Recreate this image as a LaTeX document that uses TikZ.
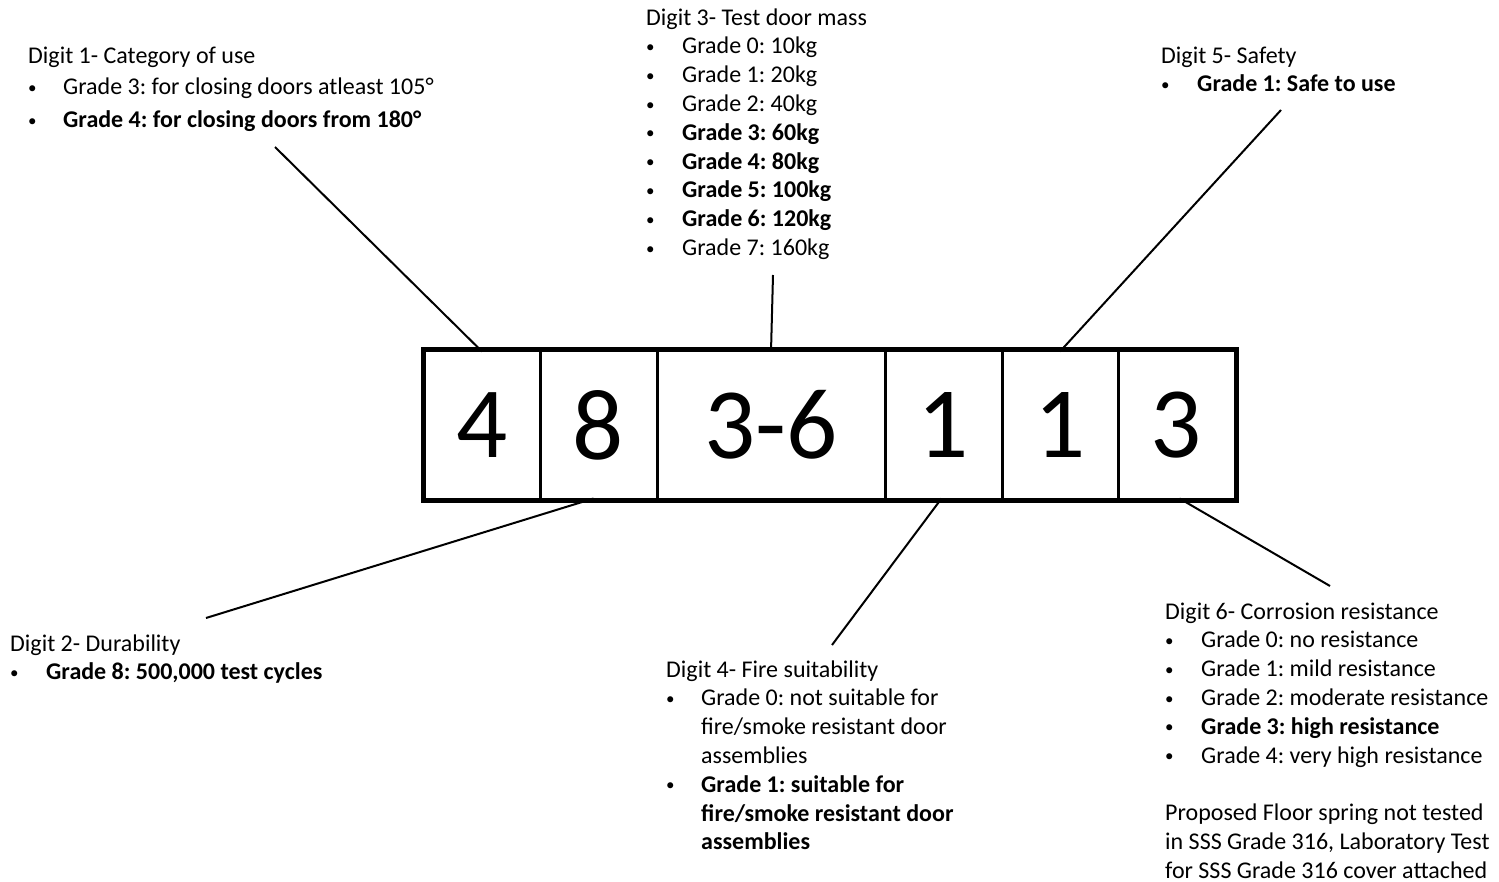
\documentclass[tikz,border=0pt]{standalone}
\usepackage{fontspec}
\setmainfont{Carlito}
\frenchspacing
\newcommand{\bl}[1]{\makebox[#1][l]{\raisebox{1.5pt}{\fontsize{17}{17}\selectfont\textbullet}}}
\begin{document}
\begin{tikzpicture}[x=1pt,y=-1pt,
  txt/.style={anchor=north west, inner sep=0pt, align=left, font=\fontsize{24}{28.8}\selectfont},
  lead/.style={line width=2pt},
  cell/.style={draw, line width=3pt, minimum height=148pt, inner sep=0pt, font=\fontsize{101}{101}\selectfont}]
\useasboundingbox (0,0) rectangle (1499,882);
% cells
\node[cell, minimum width=116pt] (c1) at (482,425) {\raisebox{-3pt}{4}};
\node[cell, minimum width=117pt] (c2) at (598.5,425) {\raisebox{-3pt}{8}};
\node[cell, minimum width=228pt] (c3) at (771,425) {\raisebox{-3pt}{3-6}};
\node[cell, minimum width=117pt] (c4) at (943.5,425) {\raisebox{-3pt}{1}};
\node[cell, minimum width=116pt] (c5) at (1060,425) {\raisebox{-3pt}{1}};
\node[cell, minimum width=117pt] (c6) at (1176.5,425) {\raisebox{-3pt}{3}};
\draw[line width=4pt] (c1.north west) rectangle (c6.south east);
% text blocks (node y = first baseline - strut height)
\node[txt] (d1) at (28,42.8) {\strut Digit 1- Category of use\\[3pt]
 \bl{35pt}Grade 3: for closing doors atleast 105°\\[4pt]
 \bl{35pt}\textbf{Grade 4: for closing doors from 180°}};
\node[txt] (d3) at (646,4.8) {\strut Digit 3- Test door mass\\
 \bl{36pt}Grade 0: 10kg\\
 \bl{36pt}Grade 1: 20kg\\
 \bl{36pt}Grade 2: 40kg\\
 \bl{36pt}\textbf{Grade 3: 60kg}\\
 \bl{36pt}\textbf{Grade 4: 80kg}\\
 \bl{36pt}\textbf{Grade 5: 100kg}\\
 \bl{36pt}\textbf{Grade 6: 120kg}\\
 \bl{36pt}Grade 7: 160kg};
\node[txt] (d5) at (1161,42.8) {\strut Digit 5- Safety\\
 \bl{36pt}\textbf{Grade 1: Safe to use}};
\node[txt] (d2) at (10,630.8) {\strut Digit 2- Durability\\
 \bl{36pt}\textbf{Grade 8: 500,000 test cycles}};
\node[txt] (d4) at (666,656.8) {\strut Digit 4- Fire suitability\\
 \bl{35pt}Grade 0: not suitable for\\
 \hspace*{35pt}fire/smoke resistant door\\
 \hspace*{35pt}assemblies\\
 \bl{35pt}\textbf{Grade 1: suitable for}\\
 \hspace*{35pt}\textbf{fire/smoke resistant door}\\
 \hspace*{35pt}\textbf{assemblies}};
\node[txt] (d6) at (1165,598.8) {\strut Digit 6- Corrosion resistance\\
 \bl{36pt}Grade 0: no resistance\\
 \bl{36pt}Grade 1: mild resistance\\
 \bl{36pt}Grade 2: moderate resistance\\
 \bl{36pt}\textbf{Grade 3: high resistance}\\
 \bl{36pt}Grade 4: very high resistance\\[28.8pt]
 Proposed Floor spring not tested\\
 in SSS Grade 316, Laboratory Test\\
 for SSS Grade 316 cover attached};
% leader lines
\coordinate (e1) at (275,147);
\coordinate (e3) at (773,275);
\coordinate (e5) at (1281,110);
\coordinate (e2) at (206,618);
\coordinate (e4) at (832,645);
\coordinate (e6) at (1330,586);
\draw[lead] (e1) -- ([yshift=-2pt]c1.north);
\draw[lead] (e3) -- ([yshift=-2pt]c3.north);
\draw[lead] (e5) -- ([yshift=-2pt]c5.north);
\draw[lead] (e2) -- ([xshift=-5pt,yshift=2pt]c2.south);
\draw[lead] (e4) -- ([xshift=-2pt,yshift=2pt]c4.south);
\draw[lead] (e6) -- ([xshift=3pt,yshift=2pt]c6.south);
\end{tikzpicture}
\end{document}
